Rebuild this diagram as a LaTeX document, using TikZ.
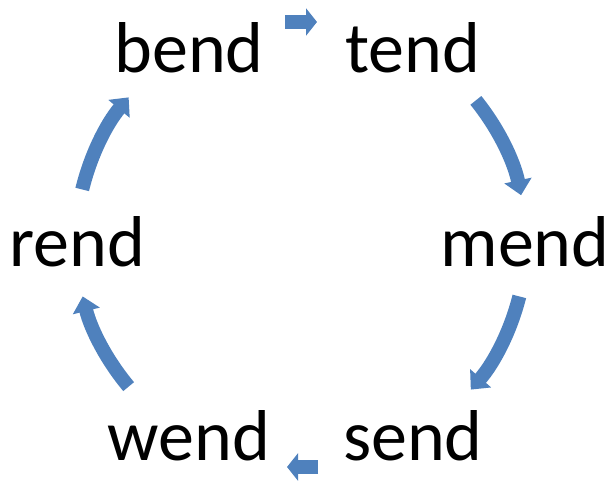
\documentclass[tikz,border=0pt]{standalone}
\usepackage{fontspec}
\setmainfont{Carlito}
\usepackage{tikz}
\usetikzlibrary{arrows.meta}
\definecolor{cycblue}{HTML}{4F81BD}

\begin{document}
\begin{tikzpicture}[x=1pt, y=1pt,
      word/.style={inner sep=0pt, font=\fontsize{72}{80}\selectfont},
      cyc/.style={-{Triangle[width=27pt, length=15pt]}, line width=14pt, color=cycblue},
      hop/.style={cyc, -{Triangle[width=27pt, length=11pt]}}
    ]
      \useasboundingbox (0,0) rectangle (614,481);
      \coordinate (hub) at (301,239);
      \node[word] (bend) at ([shift={(120:224)}]hub) {bend};
      \node[word] (tend) at ([shift={(60:224)}]hub)  {tend};
      \node[word] (mend) at ([shift={(0:224)}]hub)   {mend};
      \node[word] (send) at ([shift={(-60:224)}]hub) {send};
      \node[word] (wend) at ([shift={(-120:224)}]hub) {wend};
      \node[word] (rend) at ([shift={(180:224)}]hub) {rend};
      % short hops top and bottom
      \coordinate (topa) at ([shift={(-16,220)}]hub);
      \coordinate (topb) at ([shift={(16,220)}]hub);
      \coordinate (bota) at ([shift={(17,-225)}]hub);
      \coordinate (botb) at ([shift={(-14,-225)}]hub);
      \draw[hop] (topa) -- (topb);
      \draw[hop] (bota) -- (botb);
      % arcs round the ring
      \draw[cyc] ([shift={(39:225)}]hub) arc[start angle=39, end angle=12, radius=225];
      \draw[cyc] ([shift={(-14:225)}]hub) arc[start angle=-14, end angle=-41, radius=225];
      \draw[cyc] ([shift={(220:225)}]hub) arc[start angle=220, end angle=194, radius=225];
      \draw[cyc] ([shift={(166.5:225)}]hub) arc[start angle=166.5, end angle=140, radius=225];
    \end{tikzpicture}
\end{document}
